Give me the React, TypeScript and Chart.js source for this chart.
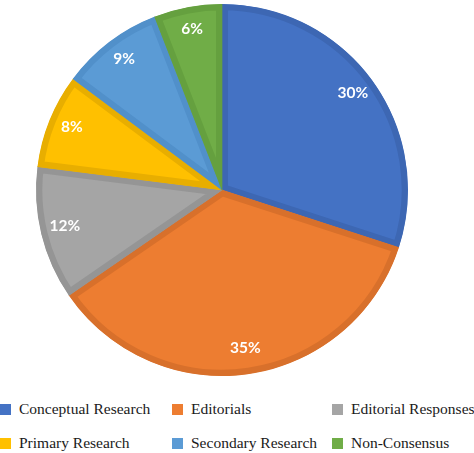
import React, { useEffect, useRef } from 'react';
import { Chart, registerables } from 'chart.js';

Chart.register(...registerables);

// categories and shares (percent of total)
const categories = [
  'Conceptual Research',
  'Editorials',
  'Editorial Responses',
  'Primary Research',
  'Secondary Research',
  'Non-Consensus',
];
const shares = [30, 35.4, 11.6, 8.2, 8.9, 5.9];

const fillColors = ['#4472C4', '#ED7D31', '#A5A5A5', '#FFC000', '#5B9BD5', '#70AD47'];
const edgeColors = ['#3D67B3', '#D8702B', '#959595', '#E8AE00', '#5190CA', '#65A03F'];

// legend order, laid out in two rows of three
const legendRows = [
  [0, 1, 2],
  [3, 4, 5],
];
const legendColX = [0, 172, 332];

const sliceLabels = {
  id: 'sliceLabels',
  afterDatasetsDraw(chart: Chart) {
    const ctx = chart.ctx;
    const meta = chart.getDatasetMeta(0);
    ctx.save();
    ctx.fillStyle = '#ffffff';
    ctx.font = 'bold 15.5px Lato, "Open Sans", sans-serif';
    ctx.textAlign = 'center';
    ctx.textBaseline = 'middle';
    meta.data.forEach((arc: any, i: number) => {
      const { x, y, startAngle, endAngle, outerRadius } = arc.getProps(
        ['x', 'y', 'startAngle', 'endAngle', 'outerRadius'],
        true
      );
      const mid = (startAngle + endAngle) / 2;
      const r = outerRadius * 0.87;
      ctx.fillText(Math.round(shares[i]) + '%', x + Math.cos(mid) * r, y + Math.sin(mid) * r - 2);
    });
    ctx.restore();
  },
};

const PieChart: React.FC = () => {
  const canvasRef = useRef<HTMLCanvasElement>(null);
  const chartRef = useRef<Chart | null>(null);

  useEffect(() => {
    if (!canvasRef.current) return;
    if (chartRef.current) chartRef.current.destroy();
    chartRef.current = new Chart(canvasRef.current, {
      type: 'pie',
      data: {
        labels: categories,
        datasets: [
          {
            data: shares,
            backgroundColor: fillColors,
            borderColor: edgeColors,
            borderWidth: 6,
            borderAlign: 'inner',
            hoverOffset: 0,
          },
        ],
      },
      options: {
        animation: false,
        responsive: true,
        maintainAspectRatio: false,
        layout: { padding: { left: 36, right: 66, top: 4, bottom: 14 } },
        plugins: {
          legend: { display: false },
          tooltip: { enabled: false },
        },
      },
      plugins: [sliceLabels],
    });
    return () => {
      if (chartRef.current) {
        chartRef.current.destroy();
        chartRef.current = null;
      }
    };
  }, []);

  return (
    <div style={{ position: 'absolute', left: 0, top: 0, width: 474, height: 390 }}>
      <canvas ref={canvasRef}></canvas>
    </div>
  );
};

export default function App() {
  return (
    <div
      style={{
        position: 'absolute',
        left: 0,
        top: 0,
        width: 474,
        height: 453,
        overflow: 'hidden',
        background: '#ffffff',
      }}
    >
      <PieChart />
      {legendRows.map((row, r) =>
        row.map((idx, c) => (
          <div
            key={idx}
            style={{
              position: 'absolute',
              left: legendColX[c],
              top: 400 + r * 34,
              height: 18,
              display: 'flex',
              alignItems: 'center',
              whiteSpace: 'nowrap',
              fontFamily: '"Liberation Serif", "Times New Roman", serif',
              fontSize: 15.5,
              color: '#1a1a1a',
            }}
          >
            <span
              style={{
                display: 'inline-block',
                width: 11,
                height: 11,
                background: fillColors[idx],
                marginRight: 8,
              }}
            ></span>
            {categories[idx]}
          </div>
        ))
      )}
    </div>
  );
}
